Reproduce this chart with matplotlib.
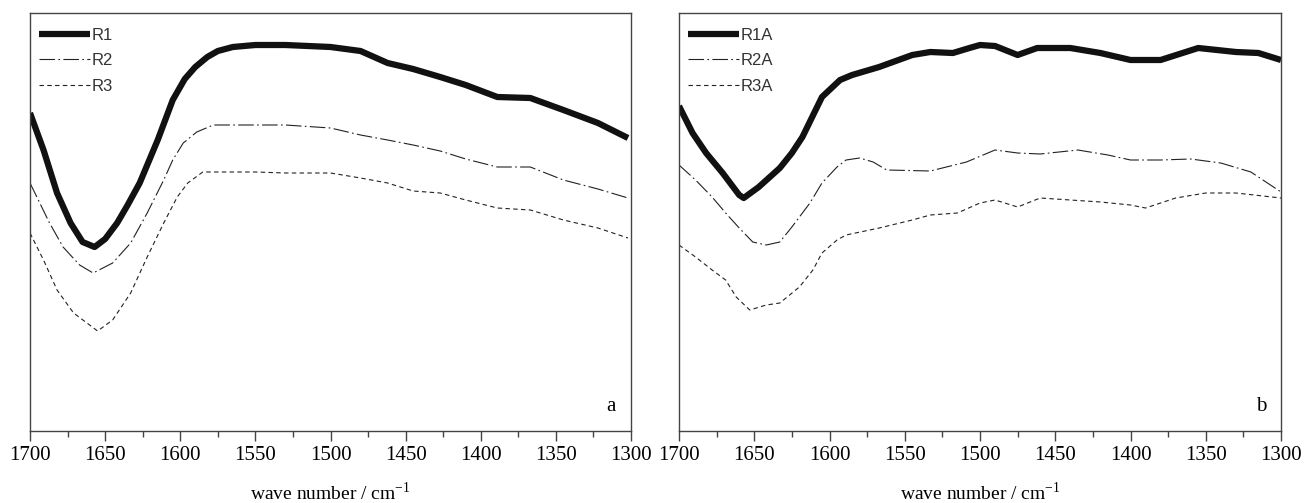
import numpy as np
import matplotlib
matplotlib.use("Agg")
import matplotlib.pyplot as plt

# wavenumbers (cm-1) and relative absorbance (arbitrary units)
# panel a
wn_r1 = [1700, 1691, 1682, 1673, 1665, 1657, 1650, 1642, 1635, 1627, 1615, 1605,
         1597, 1590, 1582, 1575, 1565, 1550, 1530, 1500, 1480, 1462, 1445, 1427,
         1410, 1389, 1367, 1345, 1322, 1302]
r1 = [318, 281, 238, 208, 189, 184, 192, 208, 226, 248, 291, 331,
      352, 364, 374, 380, 384, 386, 386, 384, 380, 368, 362, 354,
      346, 334, 333, 321, 308, 293]

wn_r2 = [1700, 1687, 1678, 1667, 1658, 1645, 1633, 1622, 1611, 1605, 1598, 1589,
         1578, 1560, 1530, 1500, 1480, 1462, 1445, 1427, 1410, 1389, 1367, 1345,
         1322, 1302]
r2 = [248, 208, 184, 166, 158, 168, 188, 218, 251, 271, 288, 299,
      306, 306, 306, 303, 296, 291, 286, 280, 272, 264, 264, 251,
      242, 233]

wn_r3 = [1700, 1691, 1682, 1671, 1655, 1645, 1633, 1622, 1611, 1602, 1595, 1585,
         1570, 1550, 1530, 1500, 1480, 1462, 1445, 1427, 1410, 1389, 1367, 1345,
         1322, 1302]
r3 = [198, 171, 141, 118, 100, 111, 138, 174, 208, 234, 248, 259,
      259, 259, 258, 258, 253, 248, 240, 238, 231, 223, 221, 211,
      203, 193]

# panel b
wn_r1a = [1700, 1691, 1682, 1671, 1660, 1657, 1647, 1633, 1625, 1618, 1605, 1593,
          1585, 1567, 1545, 1533, 1518, 1507, 1500, 1490, 1475, 1462, 1440, 1420,
          1400, 1380, 1355, 1330, 1315, 1300]
r1a = [325, 298, 278, 258, 236, 233, 244, 263, 278, 294, 334, 351,
       356, 364, 376, 379, 378, 383, 386, 385, 376, 383, 383, 378,
       371, 371, 383, 379, 378, 371]

wn_r2a = [1700, 1689, 1678, 1669, 1660, 1651, 1642, 1633, 1625, 1613, 1605, 1595,
          1589, 1580, 1571, 1562, 1533, 1509, 1490, 1475, 1460, 1435, 1415, 1400,
          1380, 1360, 1340, 1320, 1300]
r2a = [266, 251, 234, 218, 203, 189, 186, 189, 204, 228, 248, 264,
       271, 273, 269, 261, 260, 269, 281, 278, 277, 281, 276, 271,
       271, 272, 268, 259, 239]

wn_r3a = [1700, 1689, 1678, 1669, 1662, 1653, 1642, 1633, 1620, 1611, 1605, 1595,
          1589, 1567, 1545, 1533, 1515, 1500, 1490, 1475, 1460, 1440, 1420, 1400,
          1390, 1370, 1350, 1330, 1300]
r3a = [186, 174, 161, 151, 134, 121, 126, 128, 144, 161, 178, 191,
       196, 203, 211, 216, 218, 228, 231, 224, 233, 231, 229, 226,
       223, 233, 238, 238, 233]

plt.rcParams['font.family'] = ['Liberation Serif']

fig = plt.figure(figsize=(13.04, 5.03), dpi=100)
ax1 = fig.add_axes([30 / 1304, 72 / 503, 601 / 1304, 418 / 503])
ax2 = fig.add_axes([679 / 1304, 72 / 503, 602 / 1304, 418 / 503])

legend_font = {'family': 'Liberation Sans', 'size': 12}

panels = [
    (ax1, [(wn_r1, r1), (wn_r2, r2), (wn_r3, r3)], ("R1", "R2", "R3"), "a"),
    (ax2, [(wn_r1a, r1a), (wn_r2a, r2a), (wn_r3a, r3a)], ("R1A", "R2A", "R3A"), "b"),
]

for ax, series, names, tag in panels:
    (x1, y1), (x2, y2), (x3, y3) = series
    ax.plot(x1, y1, color="#111111", lw=4.5, solid_joinstyle='round',
            solid_capstyle='butt', label=names[0])
    ax.plot(x2, y2, color="#222222", lw=0.8, dashes=[14, 3, 1.5, 3], label=names[1])
    ax.plot(x3, y3, color="#222222", lw=0.8, dashes=[4, 3], label=names[2])
    ax.set_xlim(1700, 1300)
    ax.set_ylim(0, 418)
    ax.set_xticks(np.arange(1700, 1299, -50))
    ax.set_xticks(np.arange(1675, 1300, -50), minor=True)
    ax.tick_params(axis='x', which='major', length=7, width=1, labelsize=15,
                   direction='out', color='#444444', pad=4)
    ax.tick_params(axis='x', which='minor', length=4, width=1, direction='out',
                   color='#444444')
    ax.set_yticks([])
    for sp in ax.spines.values():
        sp.set_color('#444444')
        sp.set_linewidth(1)
    ax.set_xlabel(r"wave number / cm$^{\mathregular{-1}}$", fontsize=14, labelpad=12)
    ax.text(0.975, 0.035, tag, transform=ax.transAxes, fontsize=15,
            ha='right', va='bottom')
    ax.legend(loc='upper left', bbox_to_anchor=(-0.01, 1.0), frameon=False,
              prop=legend_font, handlelength=3.1, handletextpad=0.1,
              borderaxespad=0.68, labelspacing=0.63, borderpad=0.2,
              labelcolor='#333333')

fig.savefig("out.png", dpi=100)
